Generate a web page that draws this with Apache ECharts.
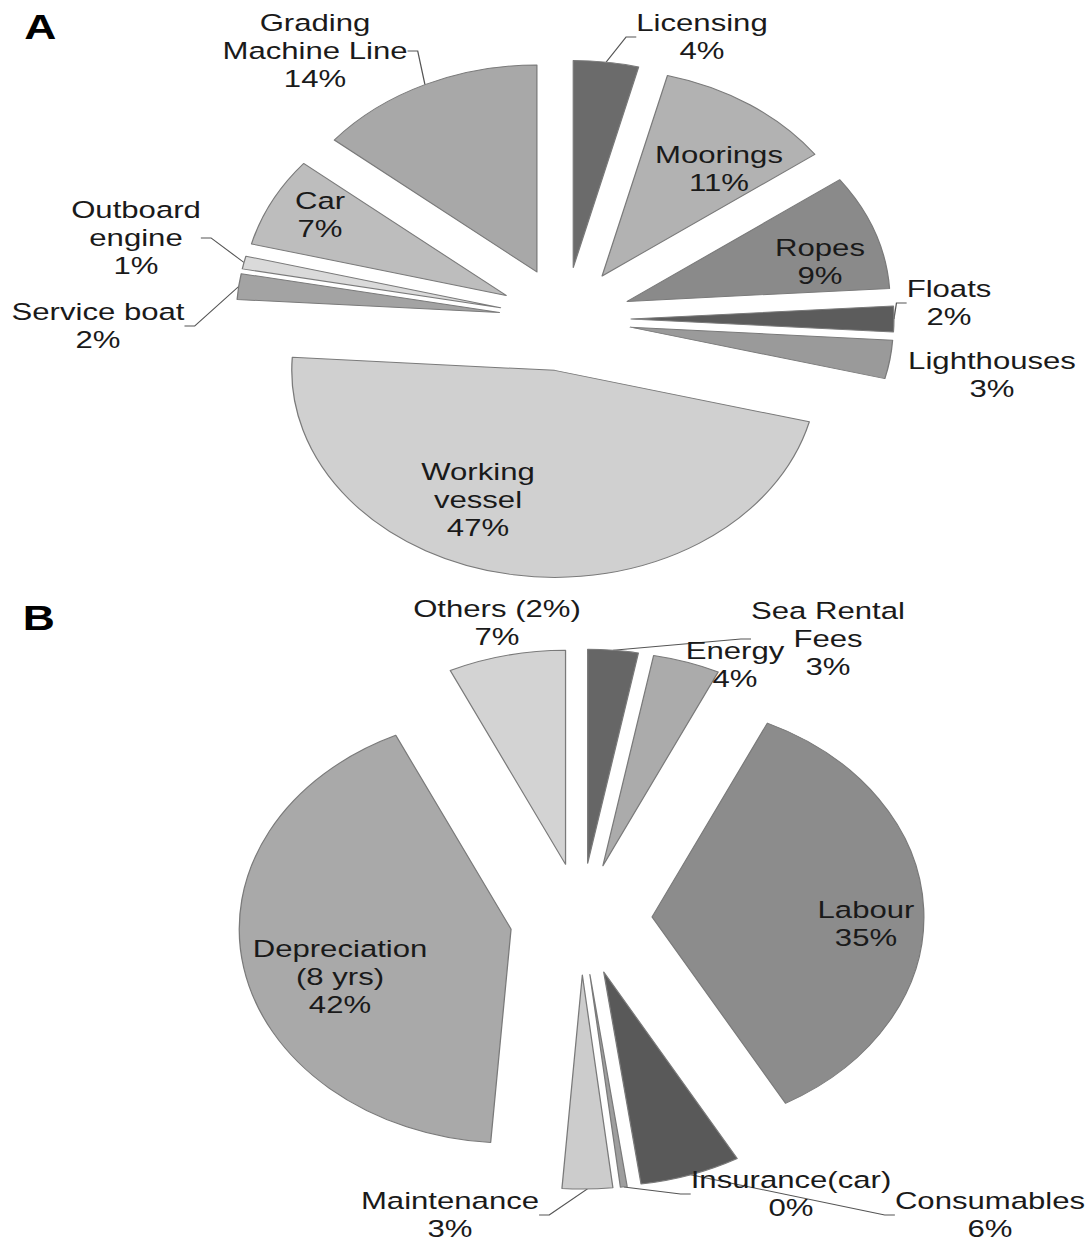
<!DOCTYPE html>
<html>
<head>
<meta charset="utf-8">
<title>Cost breakdown</title>
<script src="https://cdn.jsdelivr.net/npm/echarts@6/dist/echarts.min.js"></script>
<style>
  html, body { margin: 0; padding: 0; background: #fff; }
  .page { width: 1091px; height: 1245px; overflow: hidden; }
  /* the source figure is stretched sideways, so the whole chart is too */
  #chart { width: 859px; height: 1245px; transform: scaleX(1.27); transform-origin: 0 0; }
</style>
</head>
<body>
<div class="page"><div id="chart"></div></div>
<script>
const SX = 1.27

// A - investment, clockwise from 12 o'clock
const investNames = ['Licensing', 'Moorings', 'Ropes', 'Floats', 'Lighthouses', 'Working\nvessel', 'Service boat', 'Outboard\nengine', 'Car', 'Grading\nMachine Line']
const investValues = [4, 11, 9, 2, 3, 47, 2, 1, 7, 14]

// B - running costs, clockwise from 12 o'clock
const costNames = ['Sea Rental\nFees', 'Energy', 'Labour', 'Consumables', 'Insurance(car)', 'Maintenance', 'Depreciation\n(8 yrs)', 'Others (2%)']
const costValues = [3, 4, 35, 6, 0.4, 3, 42, 7]

// styling / label placement (page pixels)
const investColors = ['#6b6b6b', '#b2b2b2', '#8a8a8a', '#5c5c5c', '#9a9a9a', '#d0d0d0', '#a3a3a3', '#dadada', '#bdbdbd', '#a8a8a8']
const costColors = ['#666666', '#ababab', '#8c8c8c', '#595959', '#9e9e9e', '#cccccc', '#a9a9a9', '#d3d3d3']
const investLabelPos = [[702, 37], [719, 169], [820, 262], [949, 303], [992, 375], [478, 500], [98, 326], [136, 238], [320, 215], [315, 51]]
const costLabelPos = [[828, 639], [735, 665], [866, 924], [990, 1215], [791, 1194], [450, 1215], [340, 977], [497, 623]]
const investLeader = [true, false, false, true, false, false, true, true, false, true]
const costLeader = [true, false, false, true, true, true, false, false]

const font = "'Liberation Sans', Arial, sans-serif"

// exploded slices (selected state pushes every slice out)
const slices = (center, radius, offset, names, values, colors) => ({
  type: 'pie',
  center: center,
  radius: radius,
  startAngle: 90,
  clockwise: true,
  selectedMode: 'multiple',
  selectedOffset: offset,
  itemStyle: { borderColor: '#7a7a7a', borderWidth: 1 },
  select: { itemStyle: { borderColor: '#7a7a7a', borderWidth: 1 } },
  emphasis: { disabled: true },
  label: { show: false },
  labelLine: { show: false },
  data: names.map((name, i) => ({ name: name, value: values[i], selected: true, itemStyle: { color: colors[i] } }))
})

// same data again, unfilled, only to carry the labels and leader lines
// (labels of selected slices ignore labelLayout)
const labels = (center, radius, names, values, labelPos, leaders) => ({
  type: 'pie',
  center: center,
  radius: radius,
  startAngle: 90,
  clockwise: true,
  silent: true,
  avoidLabelOverlap: false,
  itemStyle: { color: 'rgba(0,0,0,0)', borderWidth: 0 },
  emphasis: { disabled: true },
  label: {
    show: true,
    position: 'outside',
    formatter: p => p.name + '\n' + Math.round(p.value) + '%',
    fontFamily: font,
    fontSize: 24.5,
    lineHeight: 28,
    color: '#1a1a1a',
    align: 'center'
  },
  labelLine: {
    show: false,
    length: 8,
    length2: 8,
    lineStyle: { color: '#555', width: 1 }
  },
  labelLayout: p => {
    const pos = labelPos[p.dataIndex]
    return { x: pos[0] / SX, y: pos[1], align: 'center', verticalAlign: 'middle' }
  },
  data: names.map((name, i) => ({ name: name, value: values[i], labelLine: { show: leaders[i] } }))
})

const centerA = [565 / SX, 319]
const centerB = [581 / SX, 919]

const chart = echarts.init(document.getElementById('chart'), null, { renderer: 'svg' })
chart.setOption({
  animation: false,
  backgroundColor: '#fff',
  title: [
    { text: 'A', left: 19, top: 9, padding: 0, textStyle: { fontFamily: font, fontSize: 35, fontWeight: 'bold', color: '#000' } },
    { text: 'B', left: 18, top: 600, padding: 0, textStyle: { fontFamily: font, fontSize: 35, fontWeight: 'bold', color: '#000' } }
  ],
  series: [
    slices(centerA, 207, 52, investNames, investValues, investColors),
    slices(centerB, 214, 56, costNames, costValues, costColors),
    labels(centerA, 259, investNames, investValues, investLabelPos, investLeader),
    labels(centerB, 270, costNames, costValues, costLabelPos, costLeader)
  ]
})
</script>
</body>
</html>
